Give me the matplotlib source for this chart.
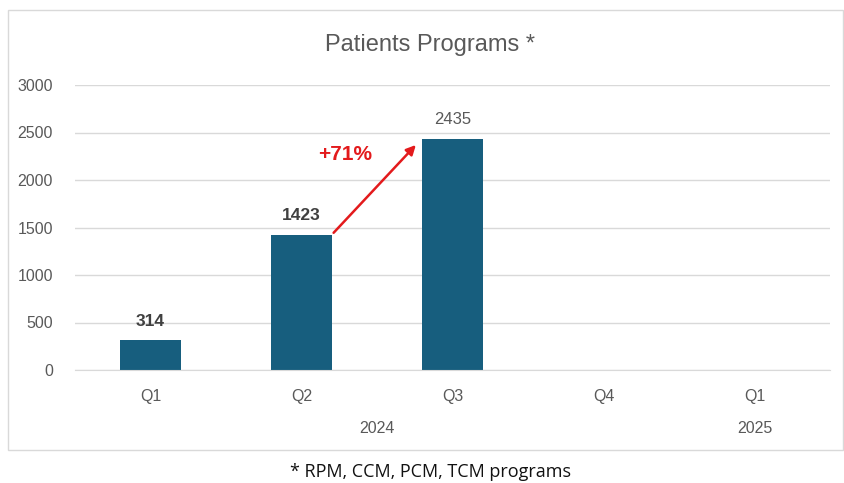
import matplotlib.pyplot as plt
from matplotlib.patches import Rectangle
import numpy as np

# Data
quarters = ['Q1', 'Q2', 'Q3', 'Q4', 'Q1']
years = ['2024', '2025']
patients = [314, 1423, 2435, None, None]
label_bold = [True, True, False]
growth_label = '+71%'

plt.rcParams['font.family'] = ['Liberation Sans', 'DejaVu Sans']

fig = plt.figure(figsize=(8.45, 4.83), dpi=100)

# Outer border of chart area
fig.patches.append(Rectangle((8 / 845, 1 - 450 / 483), 835 / 845, 440 / 483,
                             transform=fig.transFigure, fill=False,
                             edgecolor='#d9d9d9', linewidth=1))

ax = fig.add_axes([75 / 845, 1 - 370 / 483, 755 / 845, 285 / 483])

x = np.arange(len(quarters))
vals = [v for v in patients if v is not None]
bars = ax.bar(x[:len(vals)], vals, width=0.4, color='#175E7E')

ax.set_xlim(-0.5, len(quarters) - 0.5)
ax.set_ylim(0, 3000)
ax.set_yticks(np.arange(0, 3001, 500))
ax.set_xticks(x)
ax.set_xticklabels(quarters)
ax.tick_params(axis='both', length=0, colors='#595959', labelsize=11.5)
ax.tick_params(axis='x', pad=14)
ax.tick_params(axis='y', pad=16)
ax.grid(axis='y', color='#d9d9d9', linewidth=1)
ax.set_axisbelow(True)
for s in ['top', 'right', 'left']:
    ax.spines[s].set_visible(False)
ax.spines['bottom'].set_color('#d9d9d9')

# Value labels
for i, v in enumerate(vals):
    ax.text(x[i], v + 120, str(v), ha='center', va='bottom',
            fontsize=12.5 if label_bold[i] else 12,
            fontweight='bold' if label_bold[i] else 'normal',
            color='#404040' if label_bold[i] else '#595959')

# Year labels
ax.text(np.mean(x[:4]), -0.205, years[0], transform=ax.get_xaxis_transform(),
        ha='center', va='center', fontsize=11.5, color='#595959')
ax.text(x[4], -0.205, years[1], transform=ax.get_xaxis_transform(),
        ha='center', va='center', fontsize=11.5, color='#595959')

# Growth arrow
ax.annotate('', xy=(x[2] - 0.23, vals[2] - 45), xytext=(x[1] + 0.2, vals[1]),
            arrowprops=dict(arrowstyle='-|>', color='#e31a1c', lw=1.8,
                            mutation_scale=14))
ax.text(x[1] + 0.29, vals[2] - 170, growth_label, ha='center', va='center',
        fontsize=15, fontweight='bold', color='#e31a1c')

fig.text(430 / 845, 1 - 45 / 483, 'Patients Programs *', ha='center', va='center',
         fontsize=17, color='#595959')
fig.text(431 / 845, 1 - 472 / 483, '* RPM, CCM, PCM, TCM programs', ha='center',
         va='center', fontsize=13, color='#111111', family=['Open Sans', 'DejaVu Sans'])

fig.savefig('out.png', dpi=100)
